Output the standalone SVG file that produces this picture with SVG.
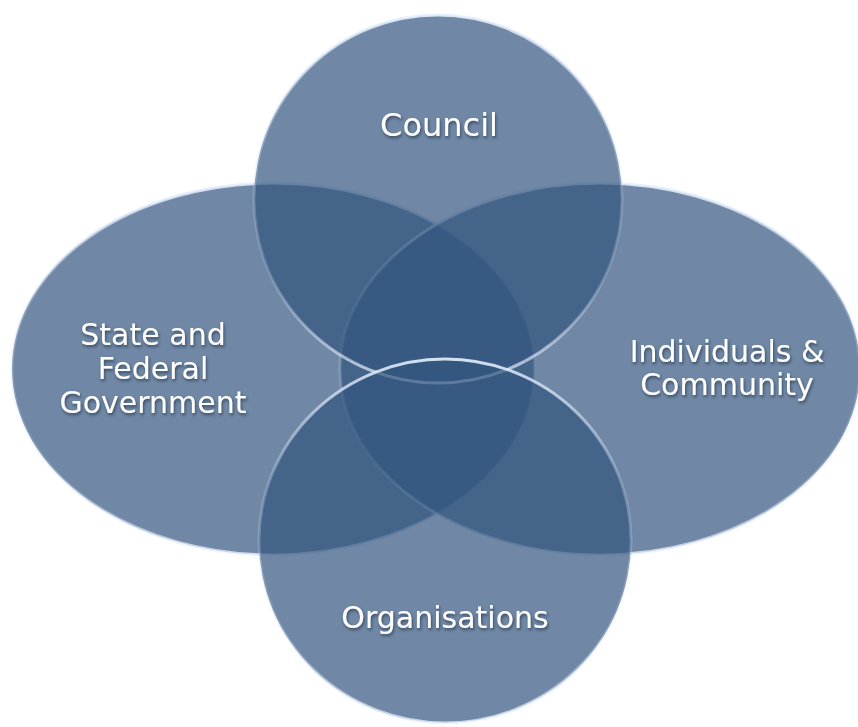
<svg xmlns="http://www.w3.org/2000/svg" width="858" height="727" viewBox="0 0 858 727">
  <defs>
    <linearGradient id="rim" x1="0" y1="0" x2="0" y2="1">
      <stop offset="0" stop-color="#e6f0ff" stop-opacity="0.9"/>
      <stop offset="0.35" stop-color="#c8d8ee" stop-opacity="0.3"/>
      <stop offset="0.7" stop-color="#c8d8ee" stop-opacity="0.2"/>
      <stop offset="1" stop-color="#eef4ff" stop-opacity="0.75"/>
    </linearGradient>
    <filter id="txtsh" x="-10%" y="-20%" width="120%" height="150%">
      <feDropShadow dx="1" dy="2" stdDeviation="1.5" flood-color="#0f1e33" flood-opacity="0.6"/>
    </filter>
  </defs>
  <style>
    .shape { fill: #33567f; fill-opacity: 0.7; stroke: url(#rim); stroke-width: 3; }
    .lbl { font-family: "DejaVu Sans", "Liberation Sans", sans-serif; font-size: 30px; fill: #ffffff; text-anchor: middle; filter: url(#txtsh); }
  </style>
  <rect width="858" height="727" fill="#ffffff"/>
  <g id="state-federal">
    <ellipse class="shape" cx="273" cy="369" rx="261" ry="186"/>
    <text class="lbl"><tspan x="153" y="345">State and</tspan><tspan x="153" y="379">Federal</tspan><tspan x="153" y="413">Government</tspan></text>
  </g>
  <g id="individuals-community">
    <ellipse class="shape" cx="600" cy="369" rx="260" ry="186"/>
    <text class="lbl"><tspan x="727" y="362">Individuals &amp;</tspan><tspan x="727" y="395">Community</tspan></text>
  </g>
  <g id="council">
    <circle class="shape" cx="438" cy="199" r="184"/>
    <text class="lbl" x="439" y="136" style="font-size:32px">Council</text>
  </g>
  <g id="organisations">
    <ellipse class="shape" cx="445" cy="541" rx="186" ry="182"/>
    <text class="lbl" x="445" y="628">Organisations</text>
  </g>
  <g id="connectors"></g>
</svg>
